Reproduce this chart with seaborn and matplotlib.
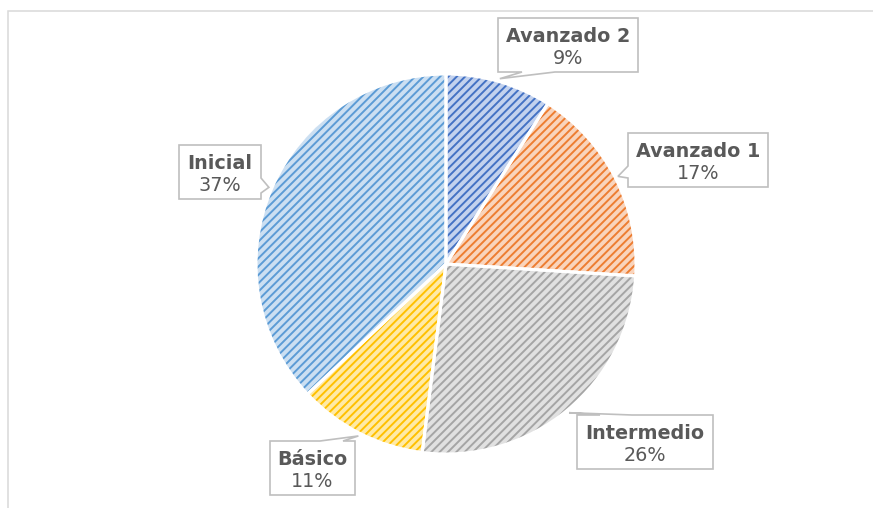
import numpy as np
import matplotlib.pyplot as plt
import seaborn as sns
from matplotlib.patches import Polygon, Rectangle

# data
levels = ["Avanzado 2", "Avanzado 1", "Intermedio", "Básico", "Inicial"]
shares = [9, 17, 26, 11, 37]
base_colors = ["#4472C4", "#ED7D31", "#A5A5A5", "#FFC000", "#5B9BD5"]
tint_colors = ["#C3D2EE", "#F9D4BC", "#E1E1E1", "#FFEAA6", "#CBDFF2"]

# label boxes in pixel coords (x0, y0, x1, y1) with y from the top,
# the side the pointer leaves from and the pointer base along that side
boxes = [
    ((498, 18, 638, 72), "bottom", (522, 555)),
    ((628, 133, 768, 187), "left", (166, 178)),
    ((577, 415, 713, 469), "top", (600, 632)),
    ((270, 441, 355, 495), "top", (320, 343)),
    ((179, 145, 261, 199), "right", (178, 193)),
]

W, H = 873, 508
sns.set_theme(style="white")
plt.rcParams['font.family'] = ['DejaVu Sans']
plt.rcParams['hatch.linewidth'] = 1.4

fig = plt.figure(figsize=(W / 100, H / 100), dpi=100)
ax = fig.add_axes([0, 0, 1, 1])

cx, cy, r = 446, H - 264, 190

# hatched fill (hatch takes the edge colour)
wedges, _ = ax.pie(shares, colors=tint_colors, startangle=90, counterclock=False,
                   center=(cx, cy), radius=r, frame=True,
                   wedgeprops=dict(linewidth=0))
for w, c in zip(wedges, base_colors):
    w.set_hatch('////')
    w.set_edgecolor(c)
    w.set_linewidth(0)

# white separators on top
ax.pie(shares, colors=['none'] * len(shares), startangle=90, counterclock=False,
       center=(cx, cy), radius=r, frame=True,
       wedgeprops=dict(linewidth=2.2, edgecolor='white'))


def callout_points(box, side, base, tip):
    x0, y0, x1, y1 = box
    b1, b2 = base
    if side == "bottom":
        pts = [(x0, y0), (x1, y0), (x1, y1), (b2, y1), tip, (b1, y1), (x0, y1)]
    elif side == "top":
        pts = [(x0, y0), (b1, y0), tip, (b2, y0), (x1, y0), (x1, y1), (x0, y1)]
    elif side == "left":
        pts = [(x0, y0), (x1, y0), (x1, y1), (x0, y1), (x0, b2), tip, (x0, b1)]
    else:
        pts = [(x0, y0), (x1, y0), (x1, b1), tip, (x1, b2), (x1, y1), (x0, y1)]
    return [(px, H - py) for px, py in pts]


for w, name, share, (box, side, base) in zip(wedges, levels, shares, boxes):
    mid = np.deg2rad((w.theta1 + w.theta2) / 2)
    tx = cx + (r + 3) * np.cos(mid)
    ty = cy + (r + 3) * np.sin(mid)
    tip = (tx, H - ty)
    poly = Polygon(callout_points(box, side, base, tip), closed=True,
                   facecolor='white', edgecolor='#BFBFBF', linewidth=1.2, zorder=5)
    ax.add_patch(poly)
    x0, y0, x1, y1 = box
    xc, yc = (x0 + x1) / 2, (y0 + y1) / 2
    ax.text(xc, H - (yc - 3), name, ha='center', va='baseline', fontsize=13.8,
            fontweight='bold', color='#595959', zorder=6)
    ax.text(xc, H - (yc + 19), f"{share}%", ha='center', va='baseline', fontsize=13.8,
            color='#595959', zorder=6)

# chart area border
ax.add_patch(Rectangle((7.5, -10), 900, H - 10.5 + 10, facecolor='none',
                       edgecolor='#D9D9D9', linewidth=1.1, clip_on=False))

ax.set_xlim(0, W)
ax.set_ylim(0, H)
ax.set_aspect('auto')
ax.axis('off')

fig.savefig('out.png', dpi=100)
